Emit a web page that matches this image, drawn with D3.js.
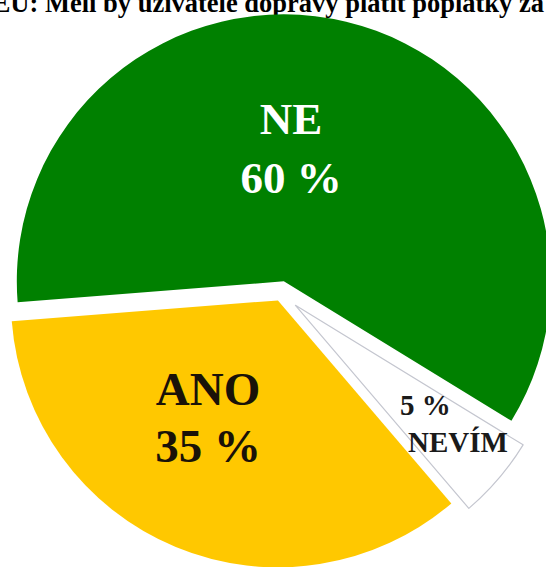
<!DOCTYPE html>
<html>
<head>
<meta charset="utf-8">
<script src="https://cdn.jsdelivr.net/npm/d3@7"></script>
<style>
  html, body { margin: 0; padding: 0; background: #ffffff; }
  svg { display: block; }
  text { font-family: "Liberation Serif", "Times New Roman", serif; font-weight: bold; }
</style>
</head>
<body>
<svg id="chart" width="546" height="567"></svg>
<script>
// Survey answers (share of respondents, %)
const categories = ["NE", "NEVÍM", "ANO"];
const values = [60, 5, 35];
const valueLabels = ["60 %", "5 %", "35 %"];
const titleText = "EU: Měli by uživatelé dopravy platit poplatky za";

const W = 546, H = 567;
const cx = 281, cy = 293, R = 267;
const deg = Math.PI / 180;

const fills = { "NE": "#008000", "NEVÍM": "#ffffff", "ANO": "#ffc800" };
const strokes = { "NE": "none", "NEVÍM": "#c4c6cf", "ANO": "none" };
const explode = { "NE": 12, "NEVÍM": 19, "ANO": 8 };

const svg = d3.select("#chart");

// Title, running off both edges of the canvas
svg.append("text")
  .attr("x", 544).attr("y", 12)
  .attr("text-anchor", "end")
  .attr("font-size", 26.5)
  .attr("fill", "#000")
  .text(titleText);

const data = categories.map((c, i) => ({ cat: c, value: values[i], label: valueLabels[i] }));

const pie = d3.pie()
  .value(d => d.value)
  .sort(null)
  .startAngle(-94.5 * deg)
  .endAngle(265.5 * deg);

const arc = d3.arc().innerRadius(0).outerRadius(R);
const arcs = pie(data);

const g = svg.append("g").attr("transform", `translate(${cx},${cy})`);

g.selectAll("path.slice")
  .data(arcs)
  .join("path")
  .attr("class", "slice")
  .attr("transform", d => {
    const mid = (d.startAngle + d.endAngle) / 2;
    const off = explode[d.data.cat];
    return `translate(${off * Math.sin(mid)},${-off * Math.cos(mid)})`;
  })
  .attr("d", arc)
  .attr("fill", d => fills[d.data.cat])
  .attr("stroke", d => strokes[d.data.cat])
  .attr("stroke-width", 1.2)
  .attr("stroke-linejoin", "round");

// Slice labels: category name and percentage
const labelSpec = {
  "NE":    { x: [291, 291], y: [134, 193], size: 45, fill: "#ffffff", anchor: "middle" },
  "ANO":   { x: [208, 208], y: [405, 462], size: 47, fill: "#1a1208", anchor: "middle" },
  "NEVÍM": { x: [400, 408], y: [415, 452], size: 29, fill: "#1a1a1a", anchor: "start" }
};

arcs.forEach(a => {
  const spec = labelSpec[a.data.cat];
  const lines = a.data.cat === "NEVÍM" ? [a.data.label, a.data.cat] : [a.data.cat, a.data.label];
  lines.forEach((t, i) => {
    svg.append("text")
      .attr("x", spec.x[i]).attr("y", spec.y[i])
      .attr("text-anchor", spec.anchor)
      .attr("font-size", spec.size)
      .attr("fill", spec.fill)
      .text(t);
  });
});
</script>
</body>
</html>
